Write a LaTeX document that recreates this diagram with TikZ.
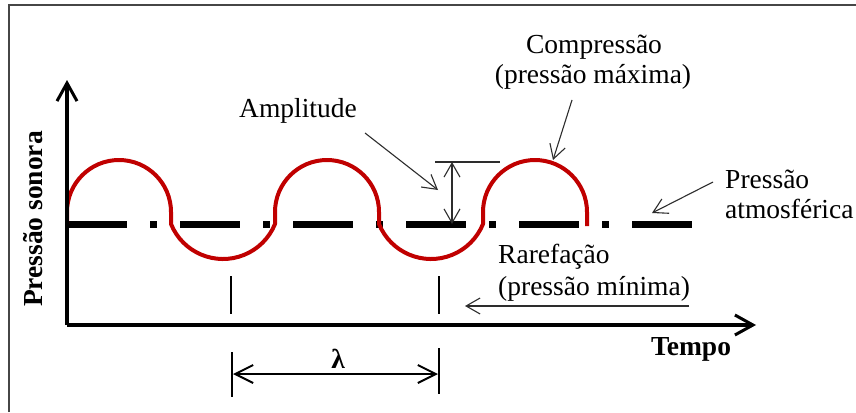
\documentclass[tikz,border=0pt]{standalone}
\usepackage{fontspec}
\setmainfont{Liberation Serif}
\usetikzlibrary{arrows.meta}
\definecolor{wavered}{RGB}{192,0,0}
\definecolor{framegray}{RGB}{70,70,70}
\definecolor{pointgray}{RGB}{45,45,45}
\begin{document}
\begin{tikzpicture}[x=1pt,y=-1pt,
  lbl/.style={inner sep=0pt,font=\fontsize{27.5}{30}\selectfont},
  blbl/.style={inner sep=0pt,font=\fontsize{27.5}{30}\selectfont\bfseries},
  axis/.style={line width=3.2pt,-{Straight Barb[length=18pt,width=20pt,line width=3pt]}},
  pointer/.style={draw=pointgray,line width=1.1pt,-{Straight Barb[length=14pt,width=16pt]}},
  thin/.style={line width=1.1pt},
  wave/.style={draw=wavered,line width=4pt,line join=round},
  hump/.style={start angle=180,end angle=0,radius=52pt},
  trough/.style={start angle=202.11,end angle=337.89,radius=56.13pt},
  atmline/.style={line width=7pt,dash pattern=on 60pt off 23pt on 7pt off 23pt},
  tick/.style={line width=2pt},
  lamarrow/.style={line width=2pt,{Straight Barb[length=18pt,width=18pt]}-{Straight Barb[length=18pt,width=18pt]}}]
\useasboundingbox (0,0) rectangle (856,412);
\fill[white] (0,0) rectangle (856,412);
% frame
\coordinate (fbl) at (9,412);
\coordinate (ftl) at (9,5);
\coordinate (ftr) at (856,5);
\draw[framegray,line width=2pt] (fbl) -- (ftl) -- (ftr);
% atmospheric line
\coordinate (atmA) at (67,224);
\coordinate (atmB) at (692,224);
\draw[atmline] (atmA) -- (atmB);
% wave
\coordinate (w0) at (67,224);
\draw[wave] (w0) -- ++(0,-12) arc[hump] -- ++(0,12) arc[trough]
  -- ++(0,-12) arc[hump] -- ++(0,12) arc[trough]
  -- ++(0,-12) arc[hump] -- ++(0,14);
% axes
\coordinate (origin) at (67,325);
\coordinate (ytip) at (67,80);
\coordinate (xtip) at (756,325);
\draw[axis] (origin) -- (ytip);
\draw[axis] (origin) -- (xtip);
\node[blbl,rotate=90,anchor=base] (ylab) at (42,219) {Pressão sonora};
\node[blbl,anchor=base] (xlab) at (691,355) {Tempo};
% period ticks
\coordinate (t1a) at (231,276); \coordinate (t1b) at (231,314);
\coordinate (t2a) at (439,276); \coordinate (t2b) at (439,314);
\draw[tick] (t1a) -- (t1b);
\draw[tick] (t2a) -- (t2b);
\coordinate (l1a) at (232,352); \coordinate (l1b) at (232,397);
\coordinate (l2a) at (439,348); \coordinate (l2b) at (439,394);
\draw[tick] (l1a) -- (l1b);
\draw[tick] (l2a) -- (l2b);
\coordinate (lamL) at (233,374); \coordinate (lamR) at (438,374);
\draw[lamarrow] (lamL) -- (lamR);
\node[blbl,anchor=base] (lam) at (338,368) {λ};
% amplitude
\node[lbl,anchor=base] (amp) at (298,117) {Amplitude};
\coordinate (ampS) at (365,133);
\coordinate (ampT) at (438,190);
\draw[pointer] (ampS) -- (ampT);
\coordinate (ampH1) at (435,162);
\coordinate (ampH2) at (500,162);
\draw[thin,pointgray] (ampH1) -- (ampH2);
\coordinate (ampTop) at (452,162);
\coordinate (ampBot) at (452,224);
\draw[thin,pointgray,{Straight Barb[length=14pt,width=16pt]}-{Straight Barb[length=14pt,width=16pt]}] (ampTop) -- (ampBot);
% compression
\node[lbl,anchor=base] (comp1) at (594,53) {Compressão};
\node[lbl,anchor=base] (comp2) at (593,83) {(pressão máxima)};
\coordinate (compS) at (572,100);
\coordinate (compT) at (553,160);
\draw[pointer] (compS) -- (compT);
% atmospheric
\node[lbl,anchor=base west] (atm1) at (725,188) {Pressão};
\node[lbl,anchor=base west] (atm2) at (725,218) {atmosférica};
\coordinate (atmS) at (713,182);
\coordinate (atmT) at (652,213);
\draw[pointer] (atmS) -- (atmT);
% rarefaction
\node[lbl,anchor=base west] (rar1) at (498,263) {Rarefação};
\node[lbl,anchor=base west] (rar2) at (498,295) {(pressão mínima)};
\coordinate (rarS) at (689,306);
\coordinate (rarT) at (465,306);
\draw[pointer] (rarS) -- (rarT);
\end{tikzpicture}
\end{document}
